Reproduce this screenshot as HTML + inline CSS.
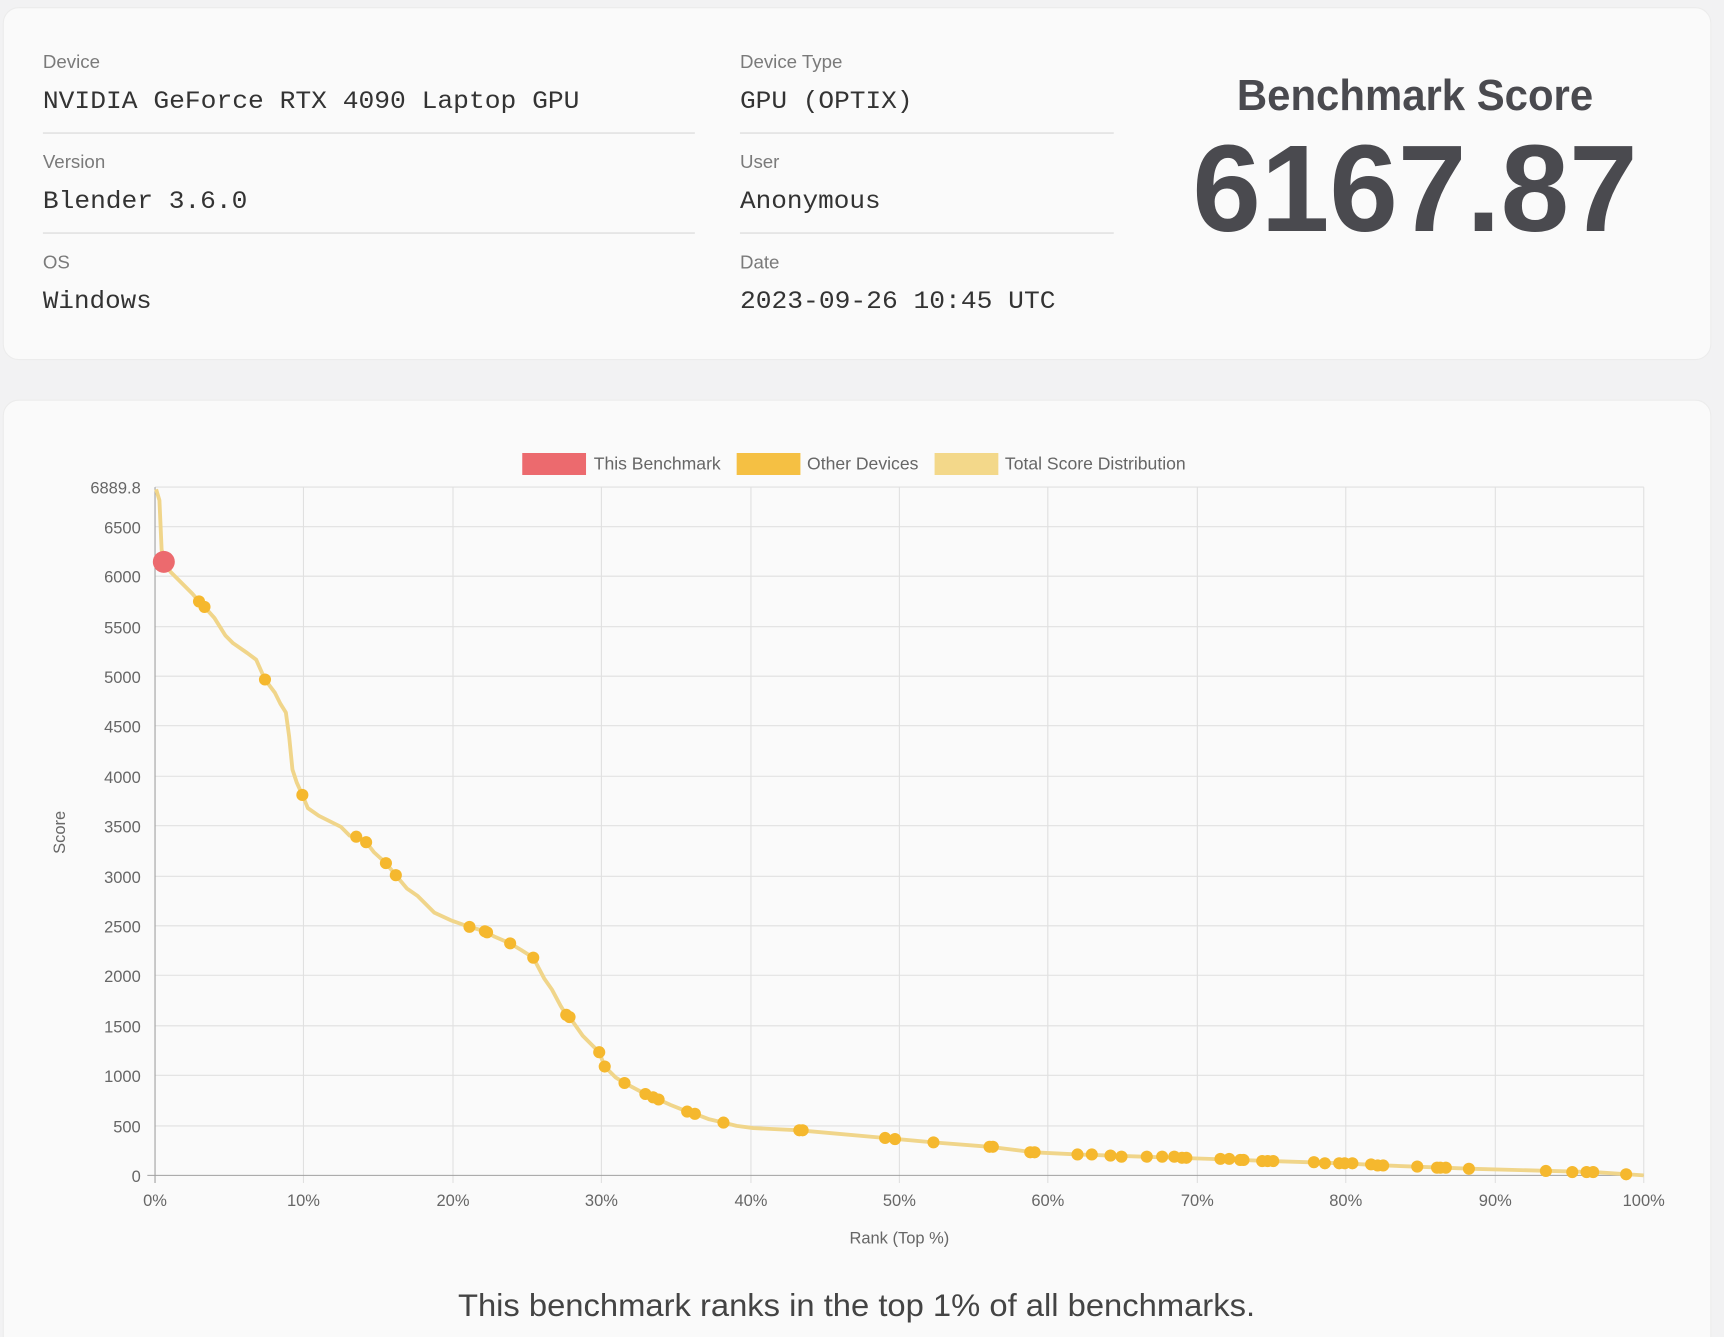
<!DOCTYPE html>
<html><head><meta charset="utf-8"><style>html,body{margin:0;padding:0;background:#f2f2f3;}svg{display:block}</style></head>
<body>
<svg width="1724" height="1337" viewBox="0 0 1568 1216" xmlns="http://www.w3.org/2000/svg">
<rect x="0" y="0" width="1568" height="1216" fill="#f2f2f3"/>
<rect x="3" y="7" width="1553" height="320" rx="14" fill="#fafafa" stroke="#ececec"/>
<rect x="3" y="364" width="1553" height="880" rx="14" fill="#fafafa" stroke="#ececec"/>
<g font-family="Liberation Sans, sans-serif" font-size="17" fill="#7a7a7a">
<text x="39" y="62">Device</text><text x="673" y="62">Device Type</text>
<text x="39" y="153">Version</text><text x="673" y="153">User</text>
<text x="39" y="244">OS</text><text x="673" y="244">Date</text>
</g>
<g font-family="Liberation Mono, monospace" font-size="23" fill="#333" lengthAdjust="spacingAndGlyphs">
<text x="39" y="98" textLength="488" lengthAdjust="spacingAndGlyphs">NVIDIA GeForce RTX 4090 Laptop GPU</text><text x="673" y="98" textLength="157" lengthAdjust="spacingAndGlyphs">GPU (OPTIX)</text>
<text x="39" y="189" textLength="186" lengthAdjust="spacingAndGlyphs">Blender 3.6.0</text><text x="673" y="189" textLength="128" lengthAdjust="spacingAndGlyphs">Anonymous</text>
<text x="39" y="280" textLength="99" lengthAdjust="spacingAndGlyphs">Windows</text><text x="673" y="280" textLength="287" lengthAdjust="spacingAndGlyphs">2023-09-26 10:45 UTC</text>
</g>
<g stroke="#e2e2e2" stroke-width="1.5"><line x1="39" y1="121" x2="632" y2="121"/><line x1="673" y1="121" x2="1013" y2="121"/><line x1="39" y1="212" x2="632" y2="212"/><line x1="673" y1="212" x2="1013" y2="212"/></g>
<text x="1287" y="100" text-anchor="middle" font-family="Liberation Sans, sans-serif" font-weight="bold" font-size="40" fill="#4a4a4f" textLength="324" lengthAdjust="spacingAndGlyphs">Benchmark Score</text>
<text x="1287" y="210" text-anchor="middle" font-family="Liberation Sans, sans-serif" font-weight="bold" font-size="112" fill="#4a4a4f" textLength="405" lengthAdjust="spacingAndGlyphs">6167.87</text>
<g font-family="Liberation Sans, sans-serif" font-size="16" fill="#666">
<rect x="475" y="412" width="58" height="20" fill="#ec6a6e"/><text x="540" y="427">This Benchmark</text>
<rect x="670" y="412" width="58" height="20" fill="#f5c043"/><text x="734" y="427">Other Devices</text>
<rect x="850" y="412" width="58" height="20" fill="#f3d88a"/><text x="914" y="427">Total Score Distribution</text>
</g>
<g stroke="#e0e0e0" stroke-width="1">
<line x1="141" y1="443" x2="1495" y2="443"/>
<line x1="141" y1="479" x2="1495" y2="479"/><line x1="141" y1="524" x2="1495" y2="524"/><line x1="141" y1="570" x2="1495" y2="570"/><line x1="141" y1="615" x2="1495" y2="615"/><line x1="141" y1="660" x2="1495" y2="660"/><line x1="141" y1="706" x2="1495" y2="706"/><line x1="141" y1="751" x2="1495" y2="751"/><line x1="141" y1="797" x2="1495" y2="797"/><line x1="141" y1="842" x2="1495" y2="842"/><line x1="141" y1="887" x2="1495" y2="887"/><line x1="141" y1="933" x2="1495" y2="933"/><line x1="141" y1="978" x2="1495" y2="978"/><line x1="141" y1="1024" x2="1495" y2="1024"/>
<line x1="276" y1="443" x2="276" y2="1076"/><line x1="412" y1="443" x2="412" y2="1076"/><line x1="547" y1="443" x2="547" y2="1076"/><line x1="683" y1="443" x2="683" y2="1076"/><line x1="818" y1="443" x2="818" y2="1076"/><line x1="953" y1="443" x2="953" y2="1076"/><line x1="1089" y1="443" x2="1089" y2="1076"/><line x1="1224" y1="443" x2="1224" y2="1076"/><line x1="1360" y1="443" x2="1360" y2="1076"/><line x1="1495" y1="443" x2="1495" y2="1076"/>
</g>
<g stroke="#a0a0a0"><line x1="141" y1="443" x2="141" y2="1076"/><line x1="134" y1="1069" x2="1495" y2="1069"/></g>
<g font-family="Liberation Sans, sans-serif" font-size="15" fill="#666" text-anchor="end">
<text x="128" y="449">6889.8</text><text x="128" y="485">6500</text><text x="128" y="530">6000</text><text x="128" y="576">5500</text><text x="128" y="621">5000</text><text x="128" y="666">4500</text><text x="128" y="712">4000</text><text x="128" y="757">3500</text><text x="128" y="803">3000</text><text x="128" y="848">2500</text><text x="128" y="893">2000</text><text x="128" y="939">1500</text><text x="128" y="984">1000</text><text x="128" y="1030">500</text><text x="128" y="1075">0</text>
</g>
<g font-family="Liberation Sans, sans-serif" font-size="15" fill="#666" text-anchor="middle">
<text x="141" y="1097">0%</text><text x="276" y="1097">10%</text><text x="412" y="1097">20%</text><text x="547" y="1097">30%</text><text x="683" y="1097">40%</text><text x="818" y="1097">50%</text><text x="953" y="1097">60%</text><text x="1089" y="1097">70%</text><text x="1224" y="1097">80%</text><text x="1360" y="1097">90%</text><text x="1495" y="1097">100%</text>
<text x="818" y="1131">Rank (Top %)</text>
<text x="59" y="757" transform="rotate(-90 59 757)">Score</text>
</g>
<polyline fill="none" stroke="#f0d58a" stroke-width="3.5" stroke-linejoin="round" points="142,445 145,455 147,500 150,512 155,520 165,530 175,540 181,547 186,552 195,562 205,578 212,585 225,594 233,600 241,618 250,630 255,640 260,648 263,670 266,700 270,712 275,723 280,735 290,742 300,747 310,752 318,760 324,761 333,766 340,775 351,785 360,796 370,808 380,815 395,830 410,837 427,843 441,847 450,852 464,858 474,864 485,871 495,890 502,900 510,915 515,923 518,925 530,942 545,957 550,970 560,980 568,985 587,995 599,1000 610,1005 625,1011 632,1013 645,1018 658,1021 670,1024 685,1026 727,1028 760,1031 805,1035 849,1039 900,1043 940,1048 980,1050 1040,1052 1100,1054 1157,1056 1220,1058 1260,1060 1340,1063 1410,1065 1450,1066 1480,1068 1495,1069"/>
<g fill="#f5b82e">
<circle cx="181" cy="547" r="5.5"/><circle cx="186" cy="552" r="5.5"/><circle cx="241" cy="618" r="5.5"/><circle cx="275" cy="723" r="5.5"/><circle cx="324" cy="761" r="5.5"/><circle cx="333" cy="766" r="5.5"/><circle cx="351" cy="785" r="5.5"/><circle cx="360" cy="796" r="5.5"/><circle cx="427" cy="843" r="5.5"/><circle cx="441" cy="847" r="5.5"/><circle cx="443" cy="848" r="5.5"/><circle cx="464" cy="858" r="5.5"/><circle cx="485" cy="871" r="5.5"/><circle cx="515" cy="923" r="5.5"/><circle cx="518" cy="925" r="5.5"/><circle cx="545" cy="957" r="5.5"/><circle cx="550" cy="970" r="5.5"/><circle cx="568" cy="985" r="5.5"/><circle cx="587" cy="995" r="5.5"/><circle cx="594" cy="998" r="5.5"/><circle cx="599" cy="1000" r="5.5"/><circle cx="625" cy="1011" r="5.5"/><circle cx="632" cy="1013" r="5.5"/><circle cx="658" cy="1021" r="5.5"/><circle cx="727" cy="1028" r="5.5"/><circle cx="730" cy="1028" r="5.5"/><circle cx="805" cy="1035" r="5.5"/><circle cx="814" cy="1036" r="5.5"/><circle cx="849" cy="1039" r="5.5"/><circle cx="900" cy="1043" r="5.5"/><circle cx="903" cy="1043" r="5.5"/><circle cx="937" cy="1048" r="5.5"/><circle cx="941" cy="1048" r="5.5"/><circle cx="980" cy="1050" r="5.5"/><circle cx="993" cy="1050" r="5.5"/><circle cx="1010" cy="1051" r="5.5"/><circle cx="1020" cy="1052" r="5.5"/><circle cx="1043" cy="1052" r="5.5"/><circle cx="1057" cy="1052" r="5.5"/><circle cx="1068" cy="1052" r="5.5"/><circle cx="1075" cy="1053" r="5.5"/><circle cx="1079" cy="1053" r="5.5"/><circle cx="1110" cy="1054" r="5.5"/><circle cx="1118" cy="1054" r="5.5"/><circle cx="1128" cy="1055" r="5.5"/><circle cx="1131" cy="1055" r="5.5"/><circle cx="1148" cy="1056" r="5.5"/><circle cx="1153" cy="1056" r="5.5"/><circle cx="1158" cy="1056" r="5.5"/><circle cx="1195" cy="1057" r="5.5"/><circle cx="1205" cy="1058" r="5.5"/><circle cx="1218" cy="1058" r="5.5"/><circle cx="1223" cy="1058" r="5.5"/><circle cx="1230" cy="1058" r="5.5"/><circle cx="1247" cy="1059" r="5.5"/><circle cx="1253" cy="1060" r="5.5"/><circle cx="1258" cy="1060" r="5.5"/><circle cx="1289" cy="1061" r="5.5"/><circle cx="1307" cy="1062" r="5.5"/><circle cx="1310" cy="1062" r="5.5"/><circle cx="1315" cy="1062" r="5.5"/><circle cx="1336" cy="1063" r="5.5"/><circle cx="1406" cy="1065" r="5.5"/><circle cx="1430" cy="1066" r="5.5"/><circle cx="1443" cy="1066" r="5.5"/><circle cx="1449" cy="1066" r="5.5"/><circle cx="1479" cy="1068" r="5.5"/>
</g>
<circle cx="149" cy="511" r="10" fill="#ec6a6e"/>
<text x="779" y="1197" text-anchor="middle" font-family="Liberation Sans, sans-serif" font-size="29" fill="#444" textLength="725" lengthAdjust="spacingAndGlyphs">This benchmark ranks in the top 1% of all benchmarks.</text>
</svg>
</body></html>
